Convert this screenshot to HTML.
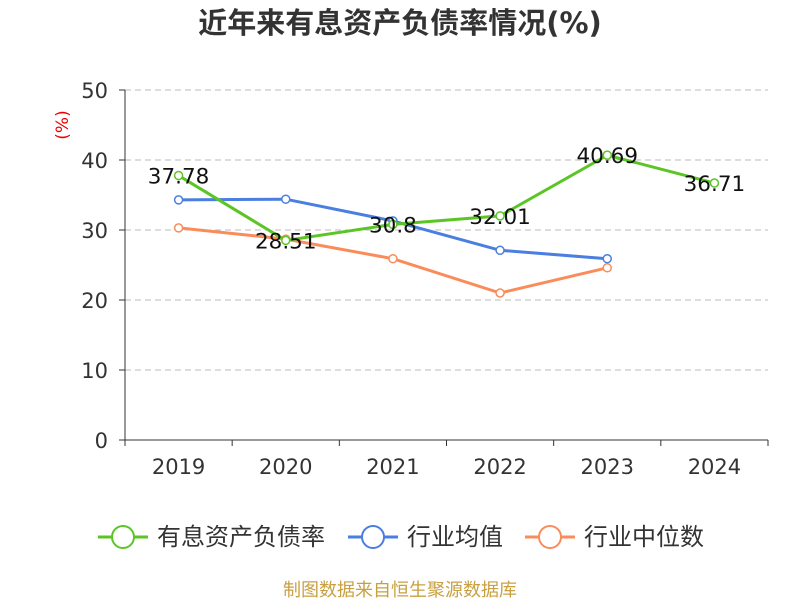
<!DOCTYPE html>
<html><head><meta charset="utf-8"><style>
body{margin:0;background:#fff;font-family:"Liberation Sans","Noto Sans CJK SC",sans-serif}
</style></head><body>
<svg width="800" height="600" xmlns="http://www.w3.org/2000/svg" font-family="Liberation Sans, Noto Sans CJK SC, sans-serif">
<text x="400" y="33" text-anchor="middle" font-size="29" font-weight="bold" fill="#333" font-family="DejaVu Sans, Noto Sans CJK SC, sans-serif">近年来有息资产负债率情况(%)</text>
<text transform="translate(68,125) rotate(-90)" text-anchor="middle" font-size="17" fill="#e00" font-family="DejaVu Sans, sans-serif">(%)</text>
<g id="grid"></g><g id="axes"></g><g id="series"></g><g id="legend"></g>
<text x="400" y="596" text-anchor="middle" font-size="18" fill="#c8a040" font-family="Noto Sans CJK SC, sans-serif">制图数据来自恒生聚源数据库</text>
</svg>
<script>
const categories=["2019","2020","2021","2022","2023","2024"];
const debtRatio=[37.78,28.51,30.8,32.01,40.69,36.71];
const industryMean=[34.3,34.4,31.3,27.1,25.9,null];
const industryMedian=[30.3,28.7,25.9,21.0,24.6,null];
const yTicks=[0,10,20,30,40,50];
const NS="http://www.w3.org/2000/svg";
const FD="DejaVu Sans, sans-serif";
const x0=125,x1=768,y0=440,yTop=90,yMax=50;
const bw=(x1-x0)/categories.length;
const X=i=>x0+bw*(i+0.5);
const Y=v=>y0-(v/yMax)*(y0-yTop);
function mk(tag,attrs,parent,txt){const e=document.createElementNS(NS,tag);for(const k in attrs)e.setAttribute(k,attrs[k]);if(txt!==undefined)e.textContent=txt;parent.appendChild(e);return e;}
const grid=document.getElementById('grid'),axes=document.getElementById('axes'),ser=document.getElementById('series'),leg=document.getElementById('legend');
yTicks.forEach(t=>{
 if(t>0){const g=mk('line',{x1:x0,x2:x1,y1:Y(t),y2:Y(t),stroke:'#bbb','stroke-dasharray':'6,4'},grid);
 
 }
 const tk=mk('line',{x1:x0-6,x2:x0,y1:Y(t),y2:Y(t),stroke:'#333'},axes);
 
 
 const l=mk('text',{x:x0-17,y:Y(t)+8,'text-anchor':'end','font-size':21,fill:'#333','font-family':FD},axes,t);
 
 
});
const ya=mk('line',{x1:x0,x2:x0,y1:yTop,y2:y0,stroke:'#333'},axes);


const xa=mk('line',{x1:x0,x2:x1,y1:y0,y2:y0,stroke:'#333'},axes);


for(let i=0;i<=categories.length;i++){const t=mk('line',{x1:x0+bw*i,x2:x0+bw*i,y1:y0,y2:y0+6,stroke:'#333'},axes);
 
 }
categories.forEach((c,i)=>{const t=mk('text',{x:X(i),y:y0+34,'text-anchor':'middle','font-size':21,fill:'#333','font-family':FD},axes,c);
 
 });
function series(data,color,name,labels){
 const pts=[];data.forEach((v,i)=>{if(v!=null)pts.push([X(i),Y(v),v]);});
 const p=mk('polyline',{points:pts.map(p=>p[0]+','+p[1]).join(' '),fill:'none',stroke:color,'stroke-width':3},ser);
 
 
 pts.forEach(q=>{const c=mk('circle',{cx:q[0],cy:q[1],r:4,fill:'#fff',stroke:color,'stroke-width':1.5},ser);
  
  
  if(labels){const t=mk('text',{x:q[0],y:q[1]+8,'text-anchor':'middle','font-size':21.5,fill:'#111','font-family':FD},ser,q[2]);
   
   }});
}
series(industryMedian,'#fa8c5a','industry-median',false);
series(industryMean,'#4a7ee0','industry-mean',false);
series(debtRatio,'#5cc526','debt-ratio',true);
[['有息资产负债率','#5cc526',98],['行业均值','#4a7ee0',348],['行业中位数','#fa8c5a',525]].forEach(([n,c,x])=>{
 const g=mk('g',{},leg);
 
 
 mk('line',{x1:x,x2:x+50,y1:537,y2:537,stroke:c,'stroke-width':3},g);
 mk('circle',{cx:x+25,cy:537,r:11,fill:'#fff',stroke:c,'stroke-width':2},g);
 mk('text',{x:x+59,y:545,'font-size':24,fill:'#333','font-family':'Noto Sans CJK SC, sans-serif'},g,n);
});
</script>
</body></html>
